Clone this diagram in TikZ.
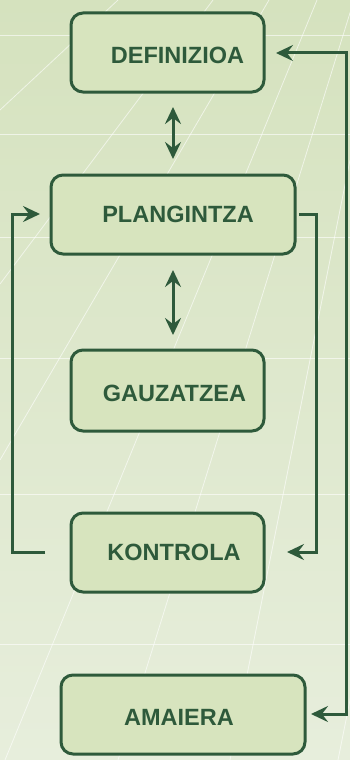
\documentclass[tikz,border=0pt]{standalone}
\usepackage{fontspec}
\setmainfont{Liberation Sans}
\usetikzlibrary{arrows.meta}
\definecolor{bgtop}{HTML}{D5E2BE}
\definecolor{bgbot}{HTML}{E7EEDC}
\definecolor{boxfill}{HTML}{D7E4BE}
\definecolor{dkgreen}{HTML}{2E5A3B}
\tikzset{
  stepbox/.style={draw=dkgreen, line width=3pt, fill=boxfill, rounded corners=12pt,
    minimum height=79pt, inner sep=0pt},
  lbl/.style={text=dkgreen, font=\fontsize{23.5}{26}\selectfont\bfseries, inner sep=0pt},
  conn/.style={draw=dkgreen, line width=3pt},
  headtip/.tip={Stealth[length=17pt,width=16pt,inset=6pt]},
  bgline/.style={draw=white, line width=0.8pt, opacity=0.6}
}
\begin{document}
\begin{tikzpicture}[x=1pt,y=-1pt]
\useasboundingbox (0,0) rectangle (350,760);
\shade[top color=bgtop, bottom color=bgbot] (0,0) rectangle (350,760);
% background grid lines
\foreach \yy in {35,134,237,358,494,644} \draw[bgline] (0,\yy) -- (350,\yy);
\draw[bgline] (0,110) -- (118,0);
\draw[bgline] (213,0) -- (0,284);
\draw[bgline] (269,0) -- (0,460);
\draw[bgline] (317,0) -- (5,760);
\draw[bgline] (354,0) -- (118,760);
\draw[bgline] (350,160) -- (230,760);
\draw[bgline] (352,690) -- (338,760);

% boxes
\node[stepbox, minimum width=193pt, minimum height=79pt] (def) at (167.5,52.5) {};
\node[stepbox, minimum width=244pt, minimum height=79pt] (plan) at (173,214.5) {};
\node[stepbox, minimum width=193pt, minimum height=81pt] (gauz) at (167.5,390.5) {};
\node[stepbox, minimum width=193pt, minimum height=79pt] (kont) at (167.5,552.5) {};
\node[stepbox, minimum width=244pt, minimum height=79pt] (amai) at (183,714.5) {};

% labels
\node[lbl] (tdef) at (177.5,55.5) {DEFINIZIOA};
\node[lbl] (tplan) at (178,214) {PLANGINTZA};
\node[lbl] (tgauz) at (174.5,393.5) {GAUZATZEA};
\node[lbl] (tkont) at (174,552) {KONTROLA};
\node[lbl] (tamai) at (179,717) {AMAIERA};

% connector end points
\coordinate (d1a) at (173,107);
\coordinate (d1b) at (173,159);
\coordinate (d2a) at (173,270);
\coordinate (d2b) at (173,335);
\coordinate (kl) at (45,552);
\coordinate (pl) at (40,214);
\coordinate (pr) at (299,214);
\coordinate (kr) at (287,552);
\coordinate (dr) at (276,53);
\coordinate (ar) at (311,714);

% connectors
\draw[conn, headtip-headtip] (d1a) -- (d1b);
\draw[conn, headtip-headtip] (d2a) -- (d2b);
\draw[conn, -headtip] (kl) -- (12,552) |- (pl);
\draw[conn, -headtip] (pr) -- (316,214) |- (kr);
\draw[conn, headtip-headtip] (dr) -| (346,714) -- (ar);
\end{tikzpicture}
\end{document}
